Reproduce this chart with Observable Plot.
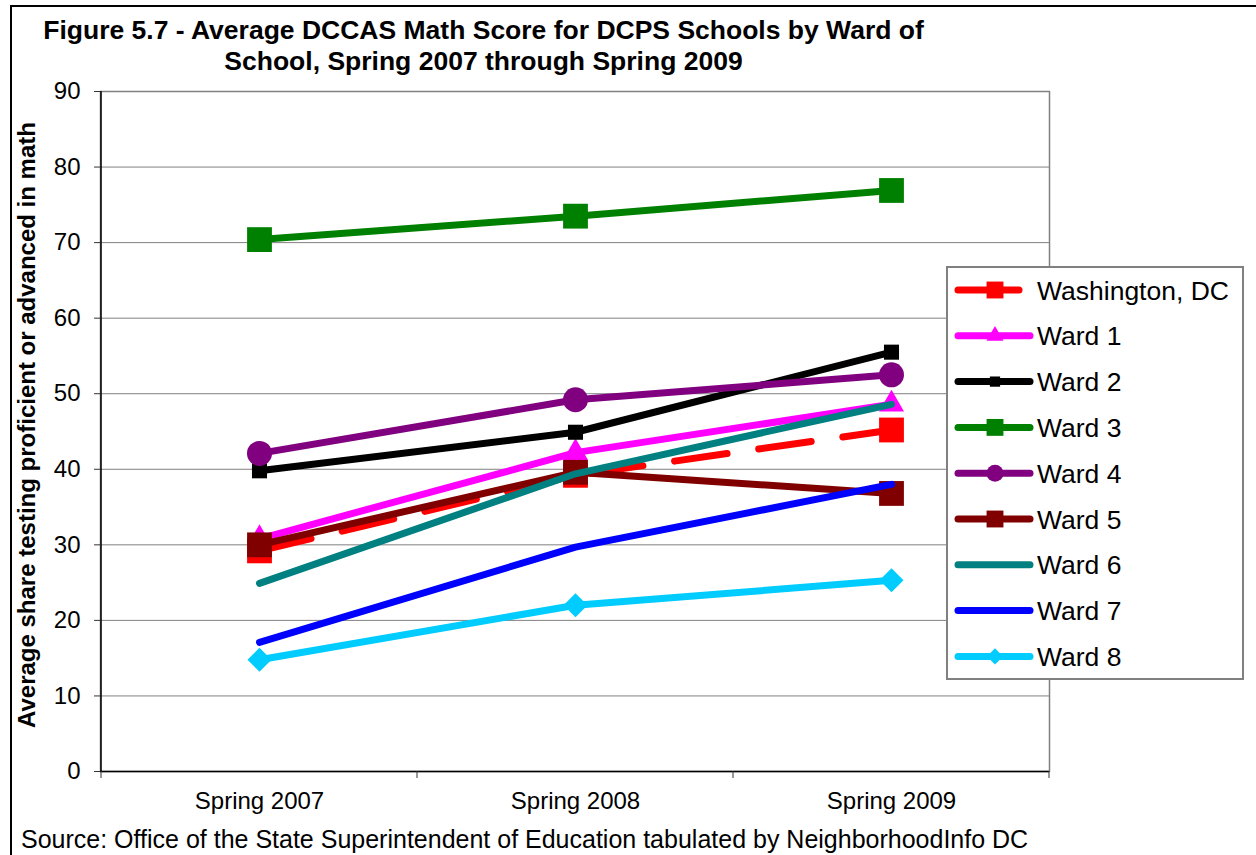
<!DOCTYPE html>
<html>
<head>
<meta charset="utf-8">
<script src="https://cdn.jsdelivr.net/npm/d3@7"></script>
<script src="https://cdn.jsdelivr.net/npm/@observablehq/plot@0.6"></script>
<style>
  body { margin: 0; background: #fff; }
  #wrap { position: relative; width: 1256px; height: 855px; overflow: hidden; background: #fff;
          font-family: "Liberation Sans", Arial, sans-serif; color: #000; }
  #border { position: absolute; left: 10px; top: 5px; width: 1300px; height: 900px;
            border-top: 2px solid #000; border-left: 2px solid #000; }
  #title { position: absolute; left: 0; top: 15px; width: 967px; text-align: center;
           font-weight: bold; font-size: 26.5px; line-height: 31px; white-space: nowrap; }
  #ylabel { position: absolute; left: -323px; top: 409.5px; width: 700px; height: 30px;
            line-height: 30px; text-align: center; font-weight: bold; font-size: 24px;
            transform: rotate(-90deg); white-space: nowrap; }
  #chart { position: absolute; left: 0; top: 80px; }
  #legend { position: absolute; left: 946px; top: 266px; }
  #caption { position: absolute; left: 21px; top: 824px; font-size: 25px; line-height: 30px; white-space: nowrap; }
</style>
</head>
<body>
<div id="wrap">
  <div id="border"></div>
  <div id="title">Figure 5.7 - Average DCCAS Math Score for DCPS Schools by Ward of<br>School, Spring 2007 through Spring 2009</div>
  <div id="ylabel">Average share testing proficient or advanced in math</div>
  <div id="chart"></div>
  <div id="legend"></div>
  <div id="caption">Source: Office of the State Superintendent of Education tabulated by NeighborhoodInfo DC</div>
</div>
<script>
// ---- Data ----
const seasons = ["Spring 2007", "Spring 2008", "Spring 2009"];
const yTicks = [0, 10, 20, 30, 40, 50, 60, 70, 80, 90];
const seriesNames = ["Washington, DC", "Ward 1", "Ward 2", "Ward 3", "Ward 4", "Ward 5", "Ward 6", "Ward 7", "Ward 8"];
const washingtonDC = [29.2, 39.2, 45.2];
const ward1 = [30.8, 42.2, 48.6];
const ward2 = [39.8, 44.9, 55.5];
const ward3 = [70.4, 73.5, 76.9];
const ward4 = [42.1, 49.2, 52.5];
const ward5 = [30.0, 39.6, 36.8];
const ward6 = [24.9, 39.4, 48.6];
const ward7 = [17.1, 29.7, 38.0];
const ward8 = [14.8, 22.0, 25.3];
const seriesValues = [washingtonDC, ward1, ward2, ward3, ward4, ward5, ward6, ward7, ward8];

// ---- Styles ----
const seriesColors = ["#FF0000", "#FF00FF", "#000000", "#008000", "#800080", "#800000", "#008080", "#0000FF", "#00CCFF"];
const seriesSymbols = ["square", "triangle", "square", "square", "circle", "square", null, null, "diamond2"];
const symbolRadius = [14, 9.3, 8.5, 14, 12.5, 14, 0, 0, 10.8];
const seriesDash = ["53,32", null, null, null, null, null, null, null, null];

const rows = seriesNames.flatMap((name, i) =>
  seasons.map((s, j) => ({series: name, season: s, value: seriesValues[i][j]})));

const seriesMarks = seriesNames.flatMap((name, i) => {
  const data = rows.filter(d => d.series === name);
  const marks = [Plot.line(data, {
    x: "season", y: "value", stroke: seriesColors[i], strokeWidth: 7,
    strokeLinecap: "round", strokeLinejoin: "round",
    strokeDasharray: seriesDash[i] || undefined
  })];
  if (seriesSymbols[i]) {
    marks.push(Plot.dot(data, {
      x: "season", y: "value", symbol: seriesSymbols[i], r: symbolRadius[i],
      fill: seriesColors[i], stroke: "none"
    }));
  }
  return marks;
});

const plot = Plot.plot({
  width: 1256, height: 740,
  marginTop: 11, marginBottom: 49, marginLeft: 100, marginRight: 207,
  style: {fontFamily: "'Liberation Sans', Arial, sans-serif", fontSize: "24px", color: "black", background: "transparent", overflow: "visible"},
  x: {type: "point", domain: seasons, padding: 0.5, label: null},
  y: {domain: [0, 90], label: null},
  marks: [
    Plot.gridY(yTicks, {stroke: "#808080", strokeOpacity: 1, strokeWidth: 1}),
    Plot.frame({stroke: "#808080", strokeWidth: 1.5}),
    Plot.axisY(yTicks, {tickSize: 6, tickPadding: 14, stroke: "#333", label: null}),
    Plot.axisX({tickSize: 0, tickPadding: 20, label: null}),
    Plot.ruleY([0], {stroke: "#000", strokeWidth: 1.5}),
    ...seriesMarks
  ]
});
document.getElementById("chart").appendChild(plot);

// left axis line and category boundary ticks, derived from the plot's scales
const xs = plot.scale("x"), ys = plot.scale("y");
const centers = seasons.map(s => xs.apply(s));
const step = centers[1] - centers[0];
const bounds = [centers[0] - step / 2, ...centers.map(c => c + step / 2)];
const [yBottom, yTop] = ys.range;
const g = d3.select(plot).append("g");
g.append("line").attr("x1", bounds[0]).attr("x2", bounds[0]).attr("y1", yTop).attr("y2", yBottom)
  .attr("stroke", "#000").attr("stroke-width", 1.5);
g.selectAll("line.bt").data(bounds).join("line").attr("class", "bt")
  .attr("x1", d => d).attr("x2", d => d).attr("y1", yBottom).attr("y2", yBottom + 7)
  .attr("stroke", "#333").attr("stroke-width", 1);

// ---- Legend ----
const symbolMap = {square: d3.symbolSquare, triangle: d3.symbolTriangle, circle: d3.symbolCircle, diamond2: d3.symbolDiamond2};
const lw = 298, lh = 414;
const lsvg = d3.select("#legend").append("svg").attr("width", lw).attr("height", lh)
  .style("font-family", "'Liberation Sans', Arial, sans-serif");
lsvg.append("rect").attr("x", 1).attr("y", 1).attr("width", lw - 2).attr("height", lh - 2)
  .attr("fill", "#fff").attr("stroke", "#808080").attr("stroke-width", 2);
seriesNames.forEach((name, i) => {
  const cy = 24 + i * 45.8;
  const item = lsvg.append("g");
  item.append("line").attr("x1", 12).attr("x2", i === 0 ? 73 : 84).attr("y1", cy).attr("y2", cy)
    .attr("stroke", seriesColors[i]).attr("stroke-width", 7).attr("stroke-linecap", "round");
  if (seriesSymbols[i]) {
    const r = symbolRadius[i] * 0.68;
    item.append("path").attr("transform", `translate(49,${cy})`)
      .attr("d", d3.symbol(symbolMap[seriesSymbols[i]], Math.PI * r * r)())
      .attr("fill", seriesColors[i]);
  }
  item.append("text").attr("x", 91).attr("y", cy + 9.5).attr("font-size", 26.5).attr("fill", "#000").text(name);
});
</script>
</body>
</html>
